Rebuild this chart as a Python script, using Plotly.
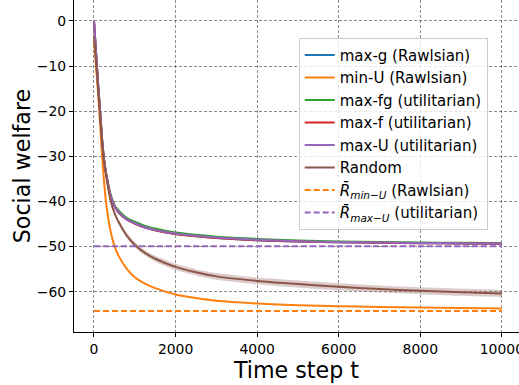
import plotly.graph_objects as go

# ---- data ----
t = [0, 25, 50, 100, 150, 200, 250, 300, 400, 500, 600, 800, 1000, 1250, 1500,
     2000, 2500, 3000, 4000, 5000, 6000, 7000, 8000, 9000, 10000]

max_u = [0.0, -3.5, -7.0, -14.0, -20.0, -26.5, -31.0, -34.0, -38.5, -41.0, -42.3, -43.9, -44.8,
         -45.7, -46.3, -47.1, -47.6, -48.0, -48.5, -48.8, -49.0, -49.1, -49.2, -49.25, -49.3]
max_fg = [0.0, -3.5, -7.0, -14.0, -20.0, -26.3, -30.8, -33.8, -38.2, -40.7, -42.0, -43.6, -44.5,
          -45.4, -46.0, -46.9, -47.4, -47.8, -48.3, -48.65, -48.85, -49.0, -49.1, -49.15, -49.2]
max_g = [0.0, -3.5, -7.0, -14.0, -20.0, -26.5, -31.0, -34.0, -38.5, -41.0, -42.4, -44.0, -44.9,
         -45.8, -46.4, -47.2, -47.7, -48.1, -48.6, -48.9, -49.05, -49.15, -49.25, -49.3, -49.35]
max_f = [0.0, -3.5, -7.0, -14.0, -20.0, -26.5, -31.0, -34.0, -38.5, -41.0, -42.4, -44.0, -44.9,
         -45.8, -46.4, -47.2, -47.7, -48.1, -48.6, -48.9, -49.05, -49.15, -49.25, -49.3, -49.35]
min_u = [-4.5, -7.0, -10.0, -16.0, -23.0, -30.0, -36.0, -40.5, -46.3, -49.8, -52.0, -54.9, -56.8,
         -58.2, -59.2, -60.6, -61.4, -62.0, -62.6, -63.0, -63.2, -63.4, -63.5, -63.6, -63.7]
random_mean = [-3.5, -6.0, -9.0, -15.0, -21.0, -27.0, -31.5, -34.5, -39.5, -42.5, -44.5, -47.5,
               -49.6, -51.4, -52.7, -54.5, -55.7, -56.6, -57.6, -58.3, -58.9, -59.4, -59.8,
               -60.1, -60.4]
random_std = [0.2, 0.3, 0.3, 0.4, 0.4, 0.5, 0.5, 0.5, 0.5, 0.5, 0.5, 0.55, 0.6, 0.6, 0.65,
              0.7, 0.7, 0.75, 0.75, 0.8, 0.8, 0.8, 0.8, 0.8, 0.8]

r_min_u = -64.3
r_max_u = -49.9
t_span = [0, 10000]

x_ticks = [0, 2000, 4000, 6000, 8000, 10000]
x_tick_labels = ["0", "2000", "4000", "6000", "8000", "10000"]
y_ticks = [-60, -50, -40, -30, -20, -10, 0]

names = ["max-g (Rawlsian)", "min-U (Rawlsian)", "max-fg (utilitarian)",
         "max-f (utilitarian)", "max-U (utilitarian)", "Random",
         "<i>R̄</i><sub><i>min−U</i></sub> (Rawlsian)",
         "<i>R̄</i><sub><i>max−U</i></sub> (utilitarian)"]
colors = ["#1f77b4", "#ff7f0e", "#2ca02c", "#d62728", "#9467bd", "#8c564b"]

fig = go.Figure()

# Random band
upper = [m + s for m, s in zip(random_mean, random_std)]
lower = [m - s for m, s in zip(random_mean, random_std)]
fig.add_trace(go.Scatter(x=t, y=lower, mode="lines", line=dict(width=0, shape="spline", smoothing=0.6),
                         showlegend=False, hoverinfo="skip"))
fig.add_trace(go.Scatter(x=t, y=upper, mode="lines", line=dict(width=0, shape="spline", smoothing=0.6),
                         fill="tonexty", fillcolor="rgba(140,86,75,0.3)",
                         showlegend=False, hoverinfo="skip"))

series = [max_g, min_u, max_fg, max_f, max_u, random_mean]
for name, col, ys in zip(names[:6], colors, series):
    fig.add_trace(go.Scatter(x=t, y=ys, mode="lines", name=name,
                             line=dict(color=col, width=2, shape="spline", smoothing=0.6)))

fig.add_trace(go.Scatter(x=t_span, y=[r_min_u, r_min_u], mode="lines", name=names[6],
                         line=dict(color=colors[1], width=2, dash="6px,3px")))
fig.add_trace(go.Scatter(x=t_span, y=[r_max_u, r_max_u], mode="lines", name=names[7],
                         line=dict(color=colors[4], width=2, dash="6px,3px")))

axis_common = dict(
    showline=True, linecolor="black", linewidth=1.2, mirror=False,
    ticks="outside", ticklen=4, tickcolor="black", tickwidth=1,
    showgrid=True, gridcolor="rgba(0,0,0,0.45)", gridwidth=0.8, griddash="3px,2px",
    zeroline=False, automargin=False, ticklabeloverflow="allow",
    tickfont=dict(family="DejaVu Sans", size=13.9, color="black"),
)

fig.update_xaxes(range=[-490, 10420], tickvals=x_ticks, ticktext=x_tick_labels,
                 title=dict(text="Time step t", font=dict(family="DejaVu Sans", size=22.2, color="black"),
                            standoff=3),
                 **axis_common)
fig.update_yaxes(range=[-68.93, 4.65], tickvals=y_ticks,
                 title=dict(text="Social welfare", font=dict(family="DejaVu Sans", size=22.2, color="black"),
                            standoff=0),
                 **axis_common)

fig.update_layout(
    width=519, height=385,
    margin=dict(l=74, r=0, t=0, b=53),
    plot_bgcolor="white", paper_bgcolor="white",
    font=dict(family="DejaVu Sans", color="black"),
    legend=dict(x=0.505, y=0.886, xanchor="left", yanchor="top", traceorder="normal",
                bgcolor="rgba(255,255,255,0.8)", bordercolor="#cccccc", borderwidth=1,
                font=dict(family="DejaVu Sans", size=15), tracegroupgap=0,
                itemwidth=30),
    showlegend=True,
)

fig.write_html("out.html", config={"displayModeBar": False},
               post_script="document.body.style.margin='0';document.body.style.padding='0';")
